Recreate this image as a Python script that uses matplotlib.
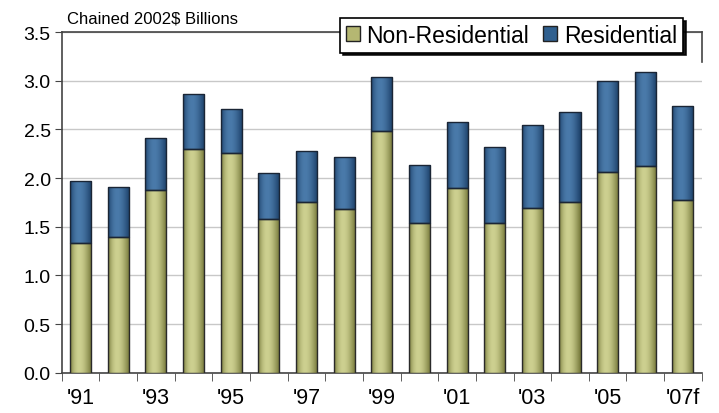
import numpy as np
import matplotlib
matplotlib.use("Agg")
import matplotlib.pyplot as plt
from matplotlib.patches import Patch

# ---------------- data ----------------
YEARS = ["'91", "'92", "'93", "'94", "'95", "'96", "'97", "'98", "'99",
         "'00", "'01", "'02", "'03", "'04", "'05", "'06", "'07f"]
NON_RES = [1.33, 1.40, 1.88, 2.30, 2.26, 1.58, 1.75, 1.68, 2.48,
           1.54, 1.90, 1.54, 1.69, 1.75, 2.06, 2.12, 1.78]
TOTAL = [1.97, 1.91, 2.41, 2.86, 2.71, 2.05, 2.28, 2.22, 3.04,
         2.13, 2.58, 2.32, 2.55, 2.68, 3.00, 3.09, 2.74]
RES = [t - n for t, n in zip(TOTAL, NON_RES)]
YTICKS = [0.0, 0.5, 1.0, 1.5, 2.0, 2.5, 3.0, 3.5]

OLIVE = "#B5B772"
BLUE = "#30608F"

plt.rcParams["font.family"] = ["Liberation Sans", "DejaVu Sans"]

fig = plt.figure(figsize=(7.19, 4.14), dpi=100)
ax = fig.add_axes([0.086, 0.097, 0.890, 0.823])

x = np.arange(len(YEARS))
w = 0.56
b1 = ax.bar(x, NON_RES, w, color=OLIVE, edgecolor="#2a2a2a", linewidth=1.0, zorder=3)
b2 = ax.bar(x, RES, w, bottom=NON_RES, color=BLUE, edgecolor="#1a2535",
            linewidth=1.0, zorder=3)


def shade(bars, dark, light):
    # horizontal gradient inside each bar: dark edges, light middle
    cmap = matplotlib.colors.LinearSegmentedColormap.from_list("g", [dark, light])
    t = np.linspace(0, 1, 64)
    grad = np.sin(np.pi * t ** 0.8).reshape(1, -1)
    for p in bars:
        x0, y0 = p.get_x(), p.get_y()
        im = ax.imshow(grad, cmap=cmap, aspect="auto", zorder=3.5,
                       interpolation="bilinear",
                       extent=(x0, x0 + p.get_width(), y0, y0 + p.get_height()),
                       vmin=0, vmax=1)
        im.set_clip_path(p)
        p.set_facecolor("none")
        p.set_zorder(4)


shade(b1, "#727436", "#CDD090")
shade(b2, "#1B3E66", "#4A7AAA")

ax.set_xlim(-0.5, len(YEARS) - 0.5)
ax.set_ylim(0, 3.5)
ax.set_yticks(YTICKS)
ax.set_yticklabels([f"{v:.1f}" for v in YTICKS], fontsize=14)
ax.set_xticks(x[::2])
ax.set_xticklabels(YEARS[::2], fontsize=15.5,
                   family=["Liberation Sans Narrow", "Liberation Sans"])
ax.set_xticks(np.arange(-0.5, len(YEARS), 1.0), minor=True)
ax.tick_params(axis="x", which="major", length=0, pad=10)
ax.tick_params(axis="x", which="minor", length=6, direction="out", color="#444444")
ax.tick_params(axis="y", length=5, direction="out", color="#444444", pad=3)

ax.grid(axis="y", color="#C8C8C8", linewidth=1.0, zorder=0)
ax.set_axisbelow(True)

for s in ("left", "bottom", "top", "right"):
    ax.spines[s].set_color("#444444")
    ax.spines[s].set_linewidth(1.2)
ax.spines["right"].set_bounds(3.19, 3.5)

fig.text(0.093, 0.955, "Chained 2002$ Billions", fontsize=12, va="center", ha="left")

handles = [Patch(facecolor=OLIVE, edgecolor="#222222"),
           Patch(facecolor=BLUE, edgecolor="#222222")]
leg = ax.legend(handles, ["Non-Residential", "Residential"], ncol=2,
                loc="upper right", bbox_to_anchor=(0.950, 0.954),
                bbox_transform=fig.transFigure, fontsize=16.5, frameon=True,
                fancybox=False, shadow={"color": "black", "alpha": 0.9},
                framealpha=1, edgecolor="black",
                handlelength=0.62, handleheight=0.65, handletextpad=0.3,
                columnspacing=0.6, borderpad=0.25, borderaxespad=0)
leg.get_frame().set_linewidth(1.2)
leg.set_zorder(10)

fig.savefig("out.png", dpi=100)
